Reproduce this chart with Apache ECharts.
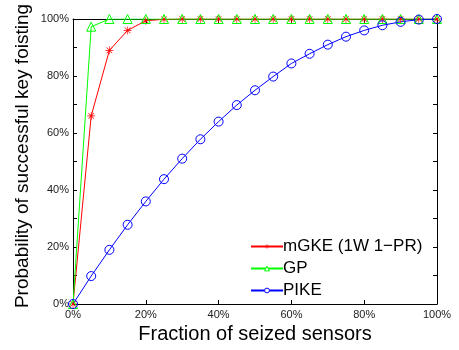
<!DOCTYPE html>
<html><head><meta charset="utf-8">
<script src="https://cdn.jsdelivr.net/npm/echarts@6/dist/echarts.min.js"></script>
<style>html,body{margin:0;padding:0;background:#fff}#c{width:459px;height:350px}</style>
</head><body><div id="c"></div>
<script>
const fractions = [0,5,10,15,20,25,30,35,40,45,50,55,60,65,70,75,80,85,90,95,100];
const mgke = [0,66,89,96,99.4,99.9,100,100,100,100,100,100,100,100,100,100,100,100,100,100,100];
const gp = [0,97.3,100,100,100,100,100,100,100,100,100,100,100,100,100,100,100,100,100,100,100];
const pike = [0,9.8,19,27.8,36,43.8,51,57.8,64,69.8,75,79.8,84.4,87.8,91,93.8,96,97.8,99,99.8,100];
const seriesNames = ['mGKE (1W 1\u2212PR)','GP','PIKE'];
const xTicks = [0,20,40,60,80,100];
const yTicks = [0,20,40,60,80,100];
const xTitle = 'Fraction of seized sensors';
const yTitle = 'Probability of successful key foisting';

const FONT = 'Liberation Sans, Arial, sans-serif';
const star = 'path://M-0.8,-10L0.8,-10L0.8,10L-0.8,10Z M-10,-0.8L10,-0.8L10,0.8L-10,0.8Z M-7.6,-6.5L-6.5,-7.6L7.6,6.5L6.5,7.6Z M6.5,-7.6L7.6,-6.5L-6.5,7.6L-7.6,6.5Z';
const pair = a => fractions.map((f,i)=>[f,a[i]]);

const chart = echarts.init(document.getElementById('c'), null, {renderer:'canvas'});
const axLine = {show:true, onZero:false, lineStyle:{color:'#000', width:1}};
chart.setOption({
  animation:false,
  backgroundColor:'#fff',
  grid:{left:73, right:22, top:19, bottom:46, containLabel:false, outerBoundsMode:'none'},
  graphic:[{
    type:'text', x:23, y:156, rotation:Math.PI/2,
    style:{text:yTitle, fontSize:19, fontFamily:FONT, fill:'#000', textAlign:'center', textVerticalAlign:'middle'}
  }],
  legend:{
    orient:'vertical', left:245, top:233, itemGap:5, itemWidth:32, itemHeight:6,
    textStyle:{fontSize:17, fontFamily:FONT, color:'#000', padding:[0,0,0,-5]},
    data:[
      {name:seriesNames[0], itemStyle:{color:'#ff0000', borderWidth:0}},
      {name:seriesNames[1], itemStyle:{color:'#ffffff', borderColor:'#00ff00', borderWidth:1}},
      {name:seriesNames[2], itemStyle:{color:'#ffffff', borderColor:'#0000ff', borderWidth:1}}
    ]
  },
  xAxis:[{
    type:'value', min:0, max:100, interval:20, position:'bottom',
    axisLine:axLine, axisTick:{show:true, inside:true, length:4, lineStyle:{color:'#000'}},
    splitLine:{show:false},
    axisLabel:{formatter:v=>xTicks.includes(v)?v+'%':'', fontSize:11, fontFamily:FONT, color:'#222', margin:5},
    name:xTitle, nameLocation:'middle', nameGap:20,
    nameTextStyle:{fontSize:20, fontFamily:FONT, color:'#000'}
  },{
    type:'value', min:0, max:100, interval:20, position:'top',
    axisLine:axLine, axisTick:{show:true, inside:true, length:4, lineStyle:{color:'#000'}},
    splitLine:{show:false}, axisLabel:{show:false}
  }],
  yAxis:[{
    type:'value', min:0, max:100, interval:10, position:'left',
    axisLine:axLine, axisTick:{show:true, inside:true, length:4, lineStyle:{color:'#000'}},
    splitLine:{show:false},
    axisLabel:{formatter:v=>yTicks.includes(v)?v+'%':'', fontSize:11, fontFamily:FONT, color:'#222', margin:4}
  },{
    type:'value', min:0, max:100, interval:10, position:'right',
    axisLine:axLine, axisTick:{show:true, inside:true, length:4, lineStyle:{color:'#000'}},
    splitLine:{show:false}, axisLabel:{show:false}
  }],
  series:[
    {name:seriesNames[0], type:'line', data:pair(mgke), symbol:star, symbolSize:8,
     lineStyle:{color:'#ff0000', width:1}, itemStyle:{color:'#ff0000'}},
    {name:seriesNames[1], type:'line', data:pair(gp), symbol:'triangle', symbolSize:9,
     lineStyle:{color:'#00ff00', width:1}, itemStyle:{color:'rgba(0,0,0,0)', borderColor:'#00ff00', borderWidth:1}},
    {name:seriesNames[2], type:'line', data:pair(pike), symbol:'circle', symbolSize:9,
     lineStyle:{color:'#0000ff', width:1}, itemStyle:{color:'rgba(0,0,0,0)', borderColor:'#0000ff', borderWidth:1}}
  ]
});
</script></body></html>
